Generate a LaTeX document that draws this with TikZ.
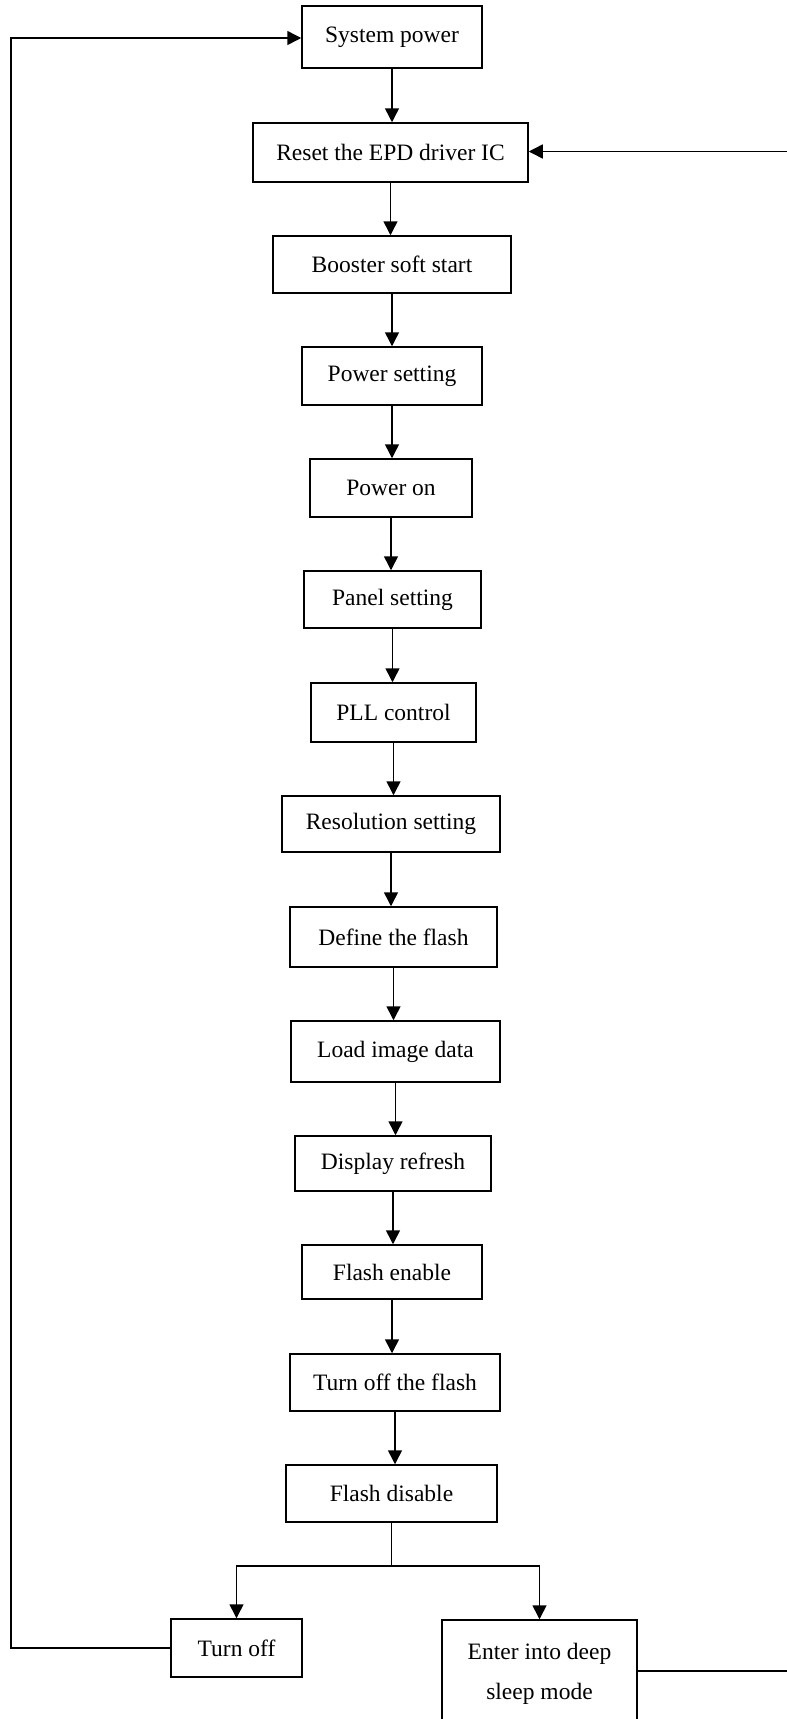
\documentclass[tikz,border=0pt]{standalone}
\usepackage{fontspec}
\setmainfont{Liberation Serif}
\usetikzlibrary{arrows.meta}
\tikzset{
  box/.style={draw, line width=1.5pt, inner sep=0pt, font=\fontsize{23.5}{40}\selectfont},
  lbl/.style={inner sep=0pt, font=\fontsize{23.5}{40}\selectfont},
  conn/.style={line width=1.5pt},
  arr/.style={line width=1.5pt, -{Triangle[length=14pt,width=14pt]}}
}
\begin{document}
\begin{tikzpicture}[x=1pt,y=-1pt]
\useasboundingbox (0,0) rectangle (787,1719);
\clip (0,0) rectangle (787,1719);
\node[box, minimum width=180pt, minimum height=62pt] (sys) at (392,37) {System power};
\node[box, minimum width=275pt, minimum height=59pt] (reset) at (390.5,152.5) {Reset the EPD driver IC};
\node[box, minimum width=238pt, minimum height=57pt] (boost) at (392,264.5) {Booster soft start};
\node[box, minimum width=180pt, minimum height=58pt] (pset) at (392,376) {Power setting};
\node[box, minimum width=162pt, minimum height=58pt] (pon) at (391,488) {Power on};
\node[box, minimum width=177pt, minimum height=57pt] (panel) at (392.5,599.5) {Panel setting};
\node[box, minimum width=165pt, minimum height=59pt] (pll) at (393.5,712.5) {PLL control};
\node[box, minimum width=218pt, minimum height=56pt] (res) at (391,824) {Resolution setting};
\node[box, minimum width=207pt, minimum height=60pt] (def) at (393.5,937) {Define the flash};
\node[box, minimum width=209pt, minimum height=61pt] (load) at (395.5,1051.5) {Load image data};
\node[box, minimum width=196pt, minimum height=55pt] (disp) at (393,1163.5) {Display refresh};
\node[box, minimum width=180pt, minimum height=54pt] (fen) at (392,1272) {Flash enable};
\node[box, minimum width=210pt, minimum height=57pt] (tflash) at (395,1382.5) {Turn off the flash};
\node[box, minimum width=211pt, minimum height=57pt] (fdis) at (391.5,1493.5) {Flash disable};
\node[box, minimum width=131pt, minimum height=58pt] (toff) at (236.5,1648) {Turn off};
\node[box, minimum width=195pt, minimum height=140pt] (deep) at (539.5,1690) {};
\node[lbl, anchor=base] (deep1) at (539.5,1659) {Enter into deep};
\node[lbl, anchor=base] (deep2) at (539.5,1699) {sleep mode};

\foreach \a/\b in {sys/reset, reset/boost, boost/pset, pset/pon, pon/panel, panel/pll, pll/res, res/def, def/load, load/disp, disp/fen, fen/tflash, tflash/fdis}
  \draw[arr] (\a.south) -- (\a.south |- \b.north);

\coordinate (J) at (391.5,1566);
\draw[conn] (fdis.south) -- (J);
\draw[arr] (J) -| (toff.north);
\draw[arr] (J) -| (deep.north);

\coordinate (L) at (11,0);
\draw[arr] (toff.west) -- (toff.west -| L) |- ([yshift=-1pt]sys.west);
\coordinate (R) at (800,0);
\draw[arr] ([yshift=19pt]deep.east) -- ([yshift=19pt]deep.east -| R) |- ([yshift=1pt]reset.east);
\end{tikzpicture}
\end{document}
